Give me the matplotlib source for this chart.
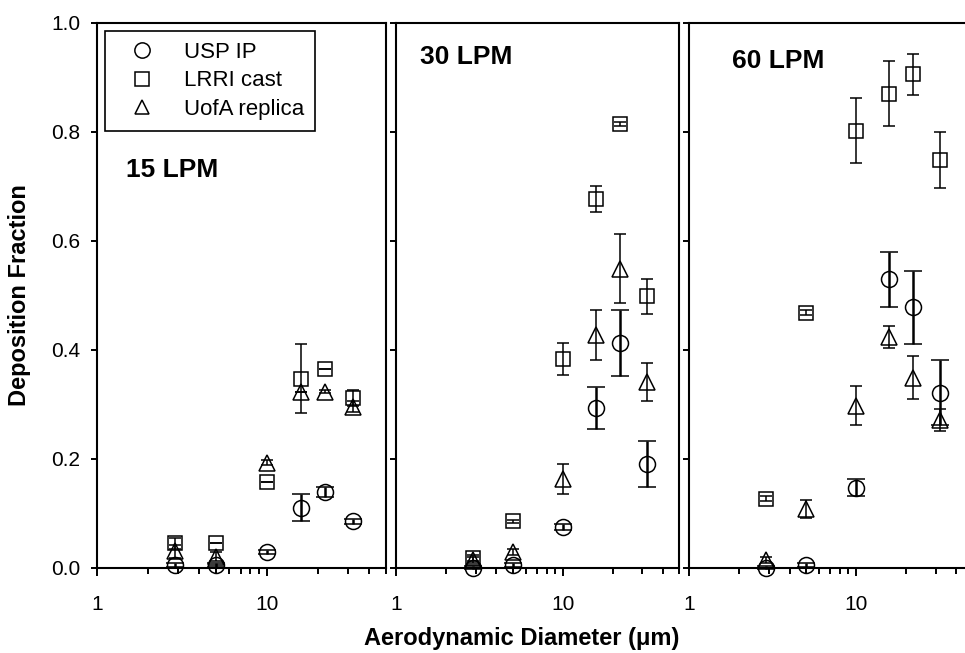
#load libraries
import matplotlib
matplotlib.use('Agg')
import matplotlib.pyplot as plt
from matplotlib.lines import Line2D
from matplotlib.ticker import LogLocator, NullFormatter, FixedLocator, FixedFormatter

plt.rcParams['font.family'] = ['Liberation Sans', 'DejaVu Sans']

#data - aerodynamic diameter (um) of each stage
diam = [2.9, 5.0, 10.0, 15.8, 22.0, 32.0]

# 15 LPM
usp_15 = [0.005, 0.005, 0.029, 0.110, 0.139, 0.085]
usp_15_err = [0.003, 0.003, 0.004, 0.025, 0.010, 0.004]
lrri_15 = [0.045, 0.045, 0.158, 0.347, 0.365, 0.311]
lrri_15_err = [0.010, 0.000, 0.000, 0.063, 0.000, 0.015]
uofa_15 = [0.030, 0.020, 0.193, 0.322, 0.323, 0.295]
uofa_15_err = [0.012, 0.008, 0.004, 0.000, 0.003, 0.010]

# 30 LPM
usp_30 = [0.000, 0.005, 0.075, 0.293, 0.412, 0.191]
usp_30_err = [0.003, 0.003, 0.005, 0.039, 0.060, 0.042]
lrri_30 = [0.018, 0.085, 0.383, 0.677, 0.814, 0.498]
lrri_30_err = [0.005, 0.003, 0.030, 0.024, 0.004, 0.032]
uofa_30 = [0.014, 0.029, 0.163, 0.427, 0.549, 0.341]
uofa_30_err = [0.005, 0.005, 0.027, 0.045, 0.063, 0.035]

# 60 LPM
usp_60 = [0.000, 0.005, 0.147, 0.529, 0.478, 0.321]
usp_60_err = [0.003, 0.003, 0.016, 0.050, 0.067, 0.060]
lrri_60 = [0.127, 0.468, 0.802, 0.870, 0.905, 0.748]
lrri_60_err = [0.004, 0.004, 0.060, 0.060, 0.037, 0.052]
uofa_60 = [0.014, 0.108, 0.297, 0.424, 0.349, 0.271]
uofa_60_err = [0.005, 0.016, 0.036, 0.020, 0.040, 0.020]

panel_titles = ['15 LPM', '30 LPM', '60 LPM']
legend_labels = ['USP IP', 'LRRI cast', 'UofA replica']
y_ticks = [0.0, 0.2, 0.4, 0.6, 0.8, 1.0]
y_ticklabels = ['0.0', '0.2', '0.4', '0.6', '0.8', '1.0']

panels = [
    (usp_15, usp_15_err, lrri_15, lrri_15_err, uofa_15, uofa_15_err),
    (usp_30, usp_30_err, lrri_30, lrri_30_err, uofa_30, uofa_30_err),
    (usp_60, usp_60_err, lrri_60, lrri_60_err, uofa_60, uofa_60_err),
]

fig = plt.figure(figsize=(9.65, 6.53), dpi=100)

# axes rectangles (figure fraction), last one runs off the right edge like the original
rects = [[0.1002, 0.1306, 0.2998, 0.8346],
         [0.4104, 0.1306, 0.2936, 0.8346],
         [0.7143, 0.1306, 0.2936, 0.8346]]
title_pos = [(0.101, 0.73), (0.085, 0.937), (0.15, 0.93)]

axes = []
for i, (usp, usp_e, lrri, lrri_e, uofa, uofa_e) in enumerate(panels):
    ax = fig.add_axes(rects[i])
    axes.append(ax)
    ax.set_xscale('log')

    # USP IP - circles, heavier error bars
    ax.errorbar(diam, usp, yerr=usp_e, fmt='o', ms=11.5, mfc='none', mec='black', mew=1.1,
                ecolor='black', elinewidth=1.8, capsize=6.5, capthick=1.8, clip_on=False, zorder=3)
    # LRRI cast - squares
    ax.errorbar(diam, lrri, yerr=lrri_e, fmt='s', ms=10, mfc='none', mec='black', mew=1.1,
                ecolor='black', elinewidth=1.1, capsize=4, capthick=1.1, clip_on=False, zorder=3)
    # UofA replica - triangles
    ax.errorbar(diam, uofa, yerr=uofa_e, fmt='^', ms=11, mfc='none', mec='black', mew=1.1,
                ecolor='black', elinewidth=1.1, capsize=4, capthick=1.1, clip_on=False, zorder=3)

    ax.set_xlim(1, 50)
    ax.set_ylim(0, 1.0)

    ax.xaxis.set_major_locator(FixedLocator([1, 10]))
    ax.xaxis.set_major_formatter(FixedFormatter(['1', '10']))
    ax.xaxis.set_minor_locator(LogLocator(base=10, subs=range(2, 10)))
    ax.xaxis.set_minor_formatter(NullFormatter())

    ax.set_yticks(y_ticks)
    if i == 0:
        ax.set_yticklabels(y_ticklabels)
    else:
        ax.set_yticklabels([])

    ax.tick_params(axis='x', which='major', direction='out', length=5.5, width=1.4,
                   labelsize=15, pad=14)
    ax.tick_params(axis='x', which='minor', direction='out', length=4.3, width=1.4)
    ax.tick_params(axis='y', which='major', direction='out', length=4.3, width=1.4,
                   labelsize=15, pad=7.5)
    for s in ax.spines.values():
        s.set_linewidth(1.5)

    ax.text(title_pos[i][0], title_pos[i][1], panel_titles[i], transform=ax.transAxes,
            fontsize=19, fontweight='bold', ha='left', va='center')

# legend in first panel
handles = [Line2D([], [], ls='none', marker='o', ms=11, mfc='none', mec='black', mew=1.1),
           Line2D([], [], ls='none', marker='s', ms=9.5, mfc='none', mec='black', mew=1.1),
           Line2D([], [], ls='none', marker='^', ms=10.5, mfc='none', mec='black', mew=1.1)]
leg = axes[0].legend(handles, legend_labels, loc='upper left', bbox_to_anchor=(0.029, 0.985),
                     borderaxespad=0, fontsize=16, frameon=True, fancybox=False,
                     edgecolor='black', framealpha=1, handlelength=2.3, handletextpad=0.75,
                     labelspacing=0.33, borderpad=0.5)
leg.get_frame().set_linewidth(1.2)

# axis labels
fig.text(522 / 965, 1 - 638 / 653, 'Aerodynamic Diameter (\u03bcm)', fontsize=17,
         fontweight='bold', ha='center', va='center')
fig.text(20 / 965, 1 - 295 / 653, 'Deposition Fraction', fontsize=17, fontweight='bold',
         ha='center', va='center', rotation=90)

fig.savefig('out.png', dpi=100)
